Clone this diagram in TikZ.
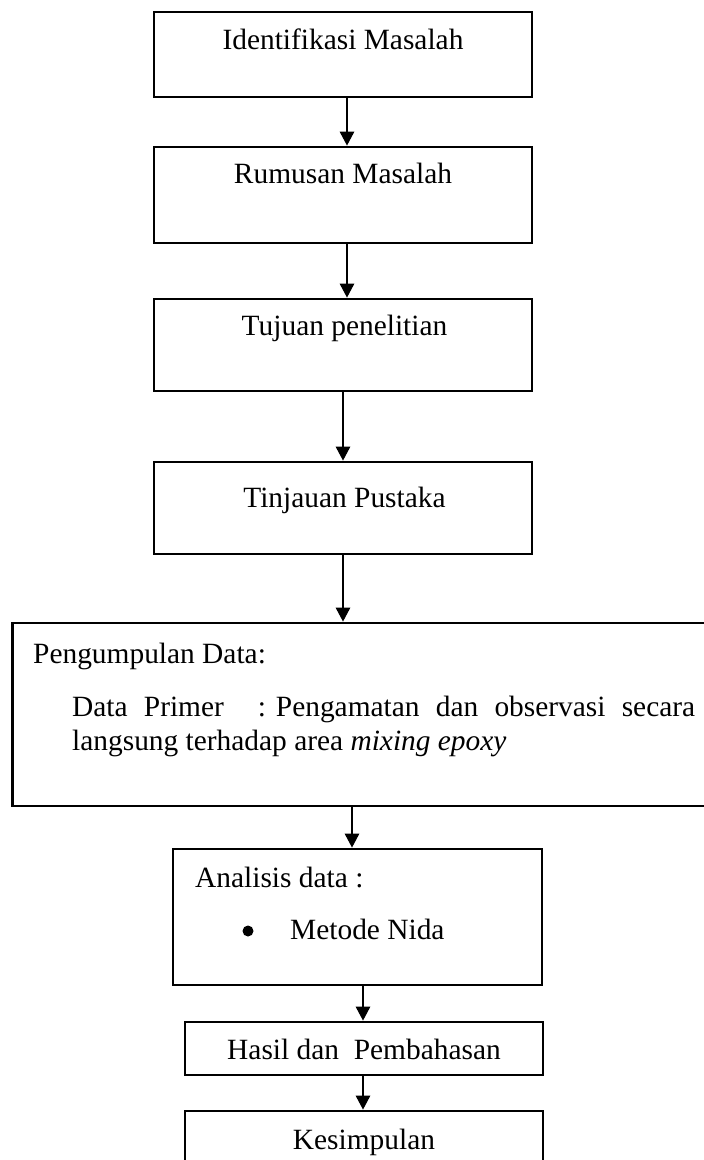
\documentclass[tikz,border=0pt]{standalone}
\usepackage{fontspec}
\setmainfont{Liberation Serif}
\usetikzlibrary{arrows.meta}
\tikzset{
  box/.style={draw, line width=2.6pt, rectangle, inner sep=0pt},
  lbl/.style={inner sep=0pt, font=\fontsize{29.4}{30}\selectfont},
  dot/.style={circle, fill, inner sep=0pt, minimum size=11pt},
  arr/.style={line width=2.6pt, -{Triangle[length=14pt,width=14pt]}}
}
\begin{document}
\begin{tikzpicture}[x=1pt,y=-1pt]
\useasboundingbox (0,0) rectangle (704,1160);
\clip (0,0) rectangle (704,1160);
% boxes
\node[box, minimum width=378pt, minimum height=85pt] (b1) at (343,54.5) {};
\node[box, minimum width=378pt, minimum height=96pt] (b2) at (343,195) {};
\node[box, minimum width=378pt, minimum height=92pt] (b3) at (343,345) {};
\node[box, minimum width=378pt, minimum height=92pt] (b4) at (343,508) {};
\node[box, minimum width=700pt, minimum height=183pt] (b5) at (362.5,714.5) {};
\node[box, minimum width=369pt, minimum height=136pt] (b6) at (357.5,917) {};
\node[box, minimum width=358pt, minimum height=53pt] (b7) at (364,1048.5) {};
\node[box, minimum width=358pt, minimum height=64pt] (b8) at (364,1143) {};
% texts
\node[lbl, anchor=base] (t1) at (343,49) {Identifikasi Masalah};
\node[lbl, anchor=base] (t2) at (343,183) {Rumusan Masalah};
\node[lbl, anchor=base] (t3) at (344.5,335) {Tujuan penelitian};
\node[lbl, anchor=base] (t4) at (344.5,507) {Tinjauan Pustaka};
\node[lbl, anchor=base west] (t5a) at (33,663) {Pengumpulan Data:};
\node[lbl, anchor=base west] (t5b) at (72,716) {\hbox to 623pt{Data\hfill\ Primer\hfill\hfill\hfill\ : Pengamatan\hfill\ dan\hfill\ observasi\hfill\ secara}};
\node[lbl, anchor=base west] (t5c) at (72,750) {langsung terhadap area \textit{mixing epoxy}};
\node[lbl, anchor=base west] (t6a) at (195,887) {Analisis data :};
\node[dot] (t6b) at (248,931) {};
\node[lbl, anchor=base west] (t6c) at (290,939) {Metode Nida};
\node[lbl, anchor=base] (t7) at (364,1059) {Hasil dan\ \ Pembahasan};
\node[lbl, anchor=base] (t8) at (364,1149) {Kesimpulan};
% connectors
\draw[arr] ([xshift=4pt]b1.south) -- ([xshift=4pt]b1.south |- b2.north);
\draw[arr] ([xshift=4pt]b2.south) -- ([xshift=4pt]b2.south |- b3.north);
\draw[arr] (b3.south) -- (b4.north);
\draw[arr] (b4.south) -- (b4.south |- b5.north);
\draw[arr] ([xshift=-5.5pt]b6.north |- b5.south) -- ([xshift=-5.5pt]b6.north);
\draw[arr] ([xshift=-1pt]b7.north |- b6.south) -- ([xshift=-1pt]b7.north);
\draw[arr] ([xshift=-1pt]b7.south) -- ([xshift=-1pt]b8.north);
\end{tikzpicture}
\end{document}
